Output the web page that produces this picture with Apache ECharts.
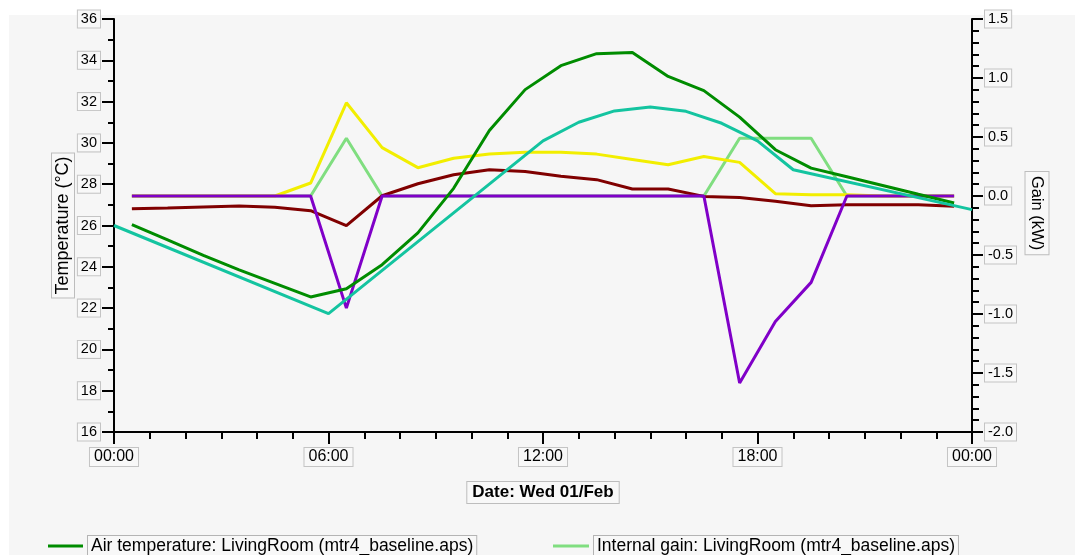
<!DOCTYPE html>
<html>
<head>
<meta charset="utf-8">
<title>LivingRoom – Wed 01/Feb</title>
<script src="https://cdn.jsdelivr.net/npm/echarts@6/dist/echarts.min.js"></script>
<style>
  html, body { margin: 0; padding: 0; background: #ffffff; }
  #chart { width: 1075px; height: 555px; }
</style>
</head>
<body>
<div id="chart"></div>
<script>
// Time axis ticks (hours from midnight) and their labels
const timeLabels = ['00:00', '06:00', '12:00', '18:00', '00:00'];

// Room results are reported at the half hour
const halfHours = [0.5, 1.5, 2.5, 3.5, 4.5, 5.5, 6.5, 7.5, 8.5, 9.5, 10.5, 11.5,
                   12.5, 13.5, 14.5, 15.5, 16.5, 17.5, 18.5, 19.5, 20.5, 21.5, 22.5, 23.5];

// Air temperature (°C)
const airTemp = [26.04, 25.30, 24.55, 23.85, 23.20, 22.54, 22.94, 24.10, 25.64, 27.80, 30.60, 32.58,
                 33.74, 34.32, 34.38, 33.22, 32.53, 31.25, 29.67, 28.78, 28.36, 27.94, 27.51, 27.09];

// Internal gain (kW)
const internalGain = [0, 0, 0, 0, 0, 0, 0.49, 0, 0, 0, 0, 0,
                      0, 0, 0, 0, 0, 0.49, 0.49, 0.49, 0, 0, 0, 0];

// Solar gain (kW)
const solarGain = [0, 0, 0, 0, 0, 0.11, 0.79, 0.41, 0.24, 0.32, 0.356, 0.37,
                   0.37, 0.355, 0.31, 0.265, 0.335, 0.285, 0.02, 0.01, 0.01, 0, 0, 0];

// Mean radiant temperature (°C)
const radiantTemp = [26.81, 26.85, 26.90, 26.95, 26.88, 26.72, 25.99, 27.44, 28.02, 28.46, 28.70, 28.62,
                     28.38, 28.22, 27.77, 27.77, 27.41, 27.36, 27.17, 26.96, 27.00, 27.00, 27.00, 26.93];

// Room units sensible load (kW)
const sensibleLoad = [0, 0, 0, 0, 0, 0, -0.95, 0, 0, 0, 0, 0,
                      0, 0, 0, 0, 0, -1.585, -1.063, -0.732, 0, 0, 0, 0];

// External dry-bulb temperature (°C), weather data on the hour
const weatherHours = [0, 6, 12, 13, 14, 15, 16, 17, 18, 19, 24];
const dryBulb = [26.0, 21.73, 30.1, 31.0, 31.55, 31.74, 31.53, 30.95, 30.1, 28.7, 26.77];

const FONT = '"Liberation Sans", Arial, sans-serif';
const labelBox = {
  color: '#000',
  fontFamily: FONT,
  backgroundColor: '#f8f8f8',
  borderColor: '#c4c4c4',
  borderWidth: 1
};

function pairs(xs, ys) {
  return xs.map((x, i) => [x, ys[i]]);
}

function lineSeries(name, color, xs, ys, axis) {
  return {
    name: name,
    type: 'line',
    yAxisIndex: axis,
    data: pairs(xs, ys),
    showSymbol: false,
    symbol: 'none',
    silent: true,
    lineStyle: { color: color, width: 3 },
    itemStyle: { color: color },
    emphasis: { disabled: true }
  };
}

const N_AIR = 'Air temperature: LivingRoom (mtr4_baseline.aps)';
const N_INT = 'Internal gain: LivingRoom (mtr4_baseline.aps)';
const N_SOL = 'Solar gain: LivingRoom (mtr4_baseline.aps)';
const N_MRT = 'Mean radiant temperature: LivingRoom (mtr4_baseline.aps)';
const N_LOAD = 'Room units sensible load: LivingRoom (mtr4_baseline.aps)';
const N_DB = 'Dry-bulb temperature (mtr4_baseline.aps)';

const legendText = Object.assign({}, labelBox, {
  fontSize: 17.5,
  lineHeight: 17,
  padding: [1, 3, 2, 3],
  borderColor: '#b4b4b4'
});

function legendColumn(left, iconWidth, names) {
  return {
    orient: 'vertical',
    left: left,
    top: 535,
    height: 300,
    padding: 0,
    itemGap: 12,
    itemWidth: iconWidth,
    itemHeight: 3,
    icon: 'rect',
    selectedMode: false,
    data: names,
    textStyle: legendText
  };
}

const chart = echarts.init(document.getElementById('chart'), null, { renderer: 'canvas' });

chart.setOption({
  animation: false,
  backgroundColor: '#ffffff',
  textStyle: { fontFamily: FONT },
  graphic: [
    {
      type: 'rect',
      silent: true,
      z: -10,
      shape: { x: 9, y: 15, width: 1066, height: 540 },
      style: { fill: '#f6f6f6' }
    },
    {
      type: 'text',
      silent: true,
      x: 1037,
      y: 213,
      rotation: -Math.PI / 2,
      style: {
        text: 'Gain (kW)',
        font: '16.5px ' + FONT,
        fill: '#000',
        align: 'center',
        verticalAlign: 'middle',
        backgroundColor: '#f8f8f8',
        borderColor: '#bdbdbd',
        borderWidth: 1,
        padding: [3, 4]
      }
    }
  ],
  grid: { left: 114, right: 103, top: 19, bottom: 123, containLabel: false },
  legend: [
    legendColumn(48, 35, [N_AIR, N_SOL, N_MRT]),
    legendColumn(553, 36, [N_INT, N_LOAD, N_DB])
  ],
  xAxis: {
    type: 'value',
    min: 0,
    max: 24,
    interval: 6,
    name: 'Date: Wed 01/Feb',
    nameLocation: 'middle',
    nameGap: 50,
    nameTextStyle: Object.assign({}, labelBox, {
      fontSize: 17,
      fontWeight: 'bold',
      lineHeight: 17,
      padding: [2, 5],
      borderColor: '#bdbdbd'
    }),
    axisLine: { show: true, onZero: false, lineStyle: { color: '#000', width: 2 } },
    axisTick: { show: true, length: 12, lineStyle: { color: '#000', width: 2 } },
    minorTick: { show: true, splitNumber: 6, length: 7, lineStyle: { color: '#000', width: 2 } },
    splitLine: { show: false },
    minorSplitLine: { show: false },
    axisLabel: Object.assign({}, labelBox, {
      fontSize: 16,
      lineHeight: 16,
      padding: [1, 4],
      margin: 16,
      formatter: v => timeLabels[Math.round(v / 6)]
    })
  },
  yAxis: [
    {
      type: 'value',
      position: 'left',
      min: 16,
      max: 36,
      interval: 2,
      name: 'Temperature (°C)',
      nameLocation: 'middle',
      nameGap: 40,
      nameMoveOverlap: false,
      nameTextStyle: Object.assign({}, labelBox, {
        fontSize: 18,
        lineHeight: 18,
        padding: [2, 3],
        borderColor: '#bdbdbd'
      }),
      axisLine: { show: true, lineStyle: { color: '#000', width: 2 } },
      axisTick: { show: true, length: 12, lineStyle: { color: '#000', width: 2 } },
      minorTick: { show: true, splitNumber: 2, length: 6, lineStyle: { color: '#000', width: 2 } },
      splitLine: { show: false },
      axisLabel: Object.assign({}, labelBox, {
        fontSize: 14.5,
        lineHeight: 15,
        padding: [1, 3],
        margin: 14
      })
    },
    {
      type: 'value',
      position: 'right',
      min: -2,
      max: 1.5,
      interval: 0.5,
      axisLine: { show: true, lineStyle: { color: '#000', width: 2 } },
      axisTick: { show: true, length: 11, lineStyle: { color: '#000', width: 2 } },
      minorTick: { show: true, splitNumber: 5, length: 7, lineStyle: { color: '#000', width: 2 } },
      splitLine: { show: false },
      axisLabel: Object.assign({}, labelBox, {
        fontSize: 14.5,
        lineHeight: 15,
        padding: [1, 3],
        margin: 13,
        formatter: v => v.toFixed(1)
      })
    }
  ],
  series: [
    lineSeries(N_INT, '#80de80', halfHours, internalGain, 1),
    lineSeries(N_SOL, '#f2ee00', halfHours, solarGain, 1),
    lineSeries(N_MRT, '#800000', halfHours, radiantTemp, 0),
    lineSeries(N_LOAD, '#8000c8', halfHours, sensibleLoad, 1),
    lineSeries(N_AIR, '#008c00', halfHours, airTemp, 0),
    lineSeries(N_DB, '#14c4a0', weatherHours, dryBulb, 0)
  ]
});
</script>
</body>
</html>
